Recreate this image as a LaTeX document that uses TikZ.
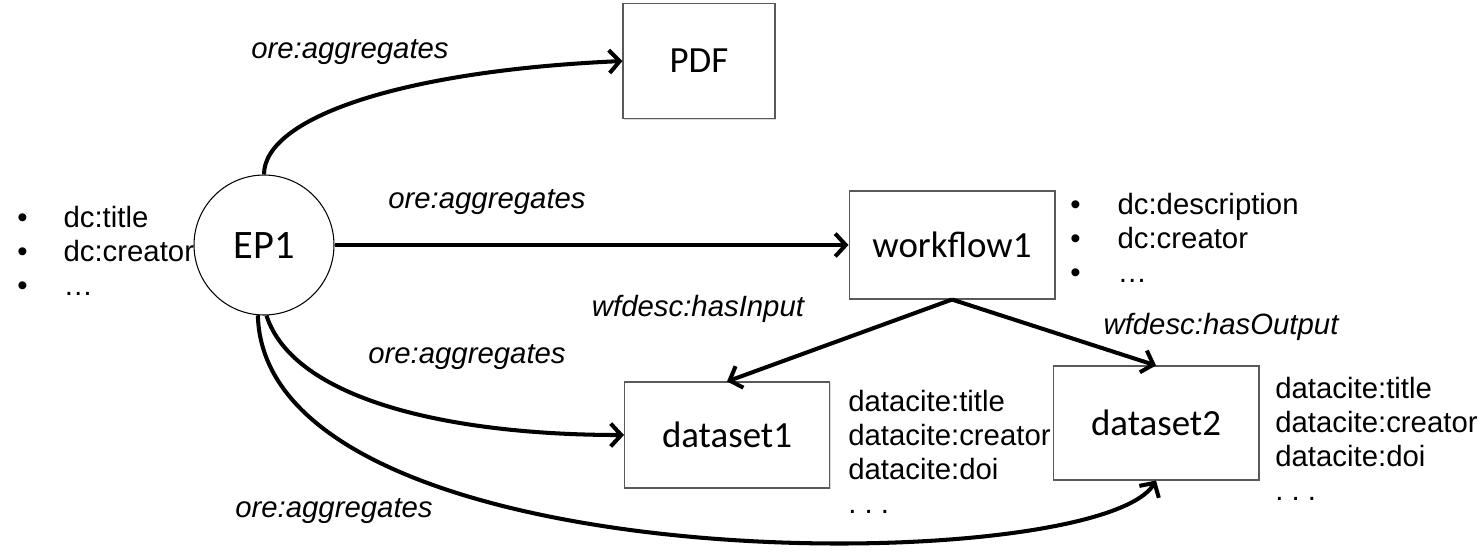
\documentclass[tikz,border=0pt]{standalone}
\usepackage{fontspec}
\setmainfont{Liberation Sans}
\newfontfamily\calfont{Carlito}
\usetikzlibrary{arrows.meta,shadows}

\tikzset{
    res/.style={draw=black!65, line width=0.6pt, fill=white, font=\calfont\fontsize{21}{25}\selectfont,
        drop shadow={opacity=0.3, shadow xshift=0.8pt, shadow yshift=-0.8pt}},
    agg/.style={line width=2.3pt, -{Straight Barb[length=6pt,width=13pt]}},
    rel/.style={font=\itshape\fontsize{16.7}{19.3}\selectfont},
    props/.style={anchor=west, align=left, inner sep=0pt, font=\fontsize{16.7}{19.3}\selectfont}
}

\begin{document}
\begin{tikzpicture}[x=0.02cm, y=-0.02cm]
    \useasboundingbox (0,0) rectangle (1483,556);
    %EP1 and its properties (the circle covers the end of dc:creator)
    \node[props] (ep1props) at (17,251) {\textbullet\hspace{0.72cm}dc:title\\ \textbullet\hspace{0.72cm}dc:creator\\ \textbullet\hspace{0.72cm}…};
    \node[circle, draw, line width=0.6pt, fill=white, minimum size=2.8cm, font=\calfont\fontsize{23}{27}\selectfont] (ep1) at (264,245) {EP1};

    %aggregated resources
    \node[res, minimum width=3.04cm, minimum height=2.3cm] (pdf) at (699,61) {PDF};
    \node[res, minimum width=4.12cm, minimum height=2.16cm] (workflow1) at (952,245) {workflow1};
    \node[res, minimum width=4.1cm, minimum height=2.12cm] (dataset1) at (727,435) {dataset1};
    \node[res, minimum width=4.12cm, minimum height=2.28cm] (dataset2) at (1156,423) {dataset2};

    \node[props] (wfprops) at (1070,238) {\textbullet\hspace{0.74cm}dc:description\\ \textbullet\hspace{0.74cm}dc:creator\\ \textbullet\hspace{0.74cm}…};
    \node[props] (ds1props) at (848,452) {datacite:title\\ datacite:creator\\ datacite:doi\\ .\ .\ .};
    \node[props] (ds2props) at (1275,439) {datacite:title\\ datacite:creator\\ datacite:doi\\ .\ .\ .};

    %ore:aggregates
    \draw[agg] (ep1.north) .. controls +(0,-56) and +(-224,10) .. (pdf.west);
    \draw[agg] (ep1.east) -- (workflow1.west);
    \draw[agg] (ep1.-88) .. controls +(27,84) and +(-175,0) .. (dataset1.west);
    \draw[agg] (ep1.-95) .. controls +(7,270) and +(-60,98) .. (dataset2.south);
    \node[rel] (agg1) at (350,52) {ore:aggregates};
    \node[rel] (agg2) at (487,202) {ore:aggregates};
    \node[rel] (agg3) at (467,357) {ore:aggregates};
    \node[rel] (agg4) at (334,511) {ore:aggregates};

    %wfdesc
    \draw[agg] (workflow1.south) -- (dataset1.north);
    \draw[agg] (workflow1.south) -- (dataset2.north);
    \node[rel] (hasin) at (698,309) {wfdesc:hasInput};
    \node[rel] (hasout) at (1221,327) {wfdesc:hasOutput};
\end{tikzpicture}
\end{document}
